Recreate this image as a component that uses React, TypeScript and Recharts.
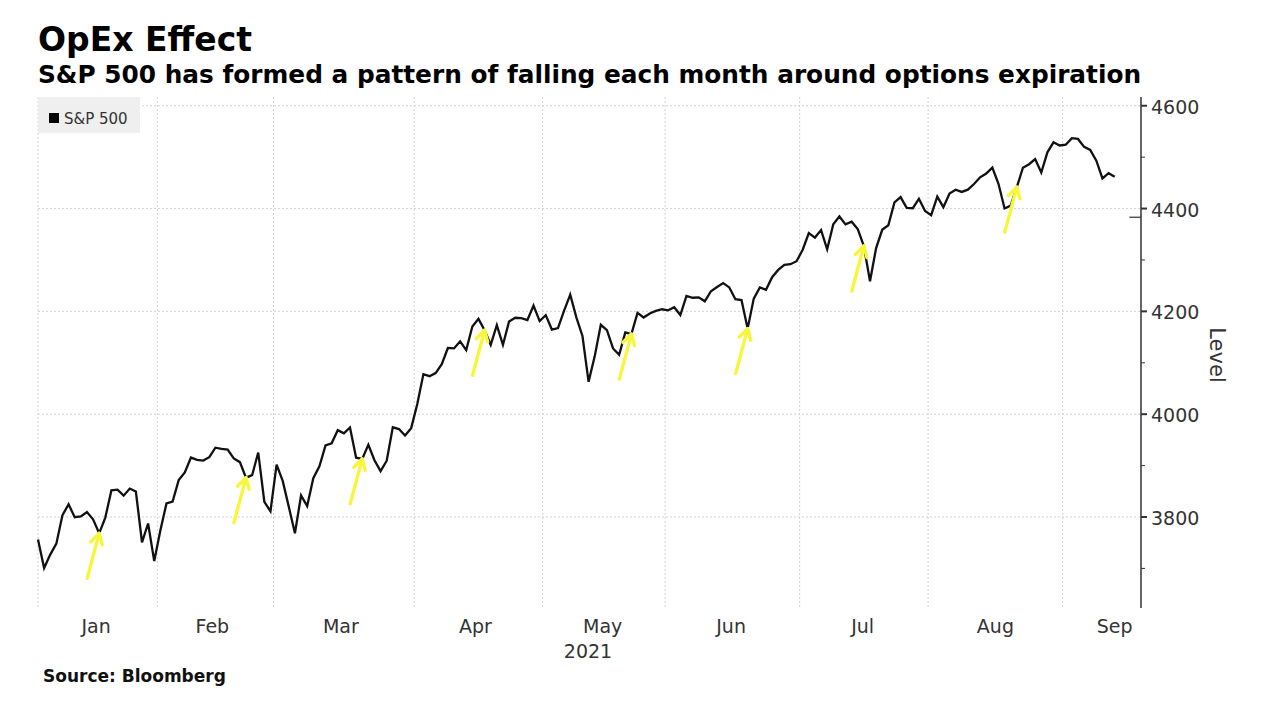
import { LineChart, Line, XAxis, YAxis, CartesianGrid, ReferenceLine, ReferenceDot } from 'recharts'

// S&P 500 daily closes
const dec2020 = [3756.07]
const jan = [
  3700.65, 3726.86, 3748.14, 3803.79, 3824.68, 3799.61, 3801.19, 3809.84, 3795.54, 3768.25,
  3798.91, 3851.85, 3853.07, 3841.47, 3855.36, 3849.62, 3750.77, 3787.38, 3714.24,
]
const feb = [
  3773.86, 3826.31, 3830.17, 3871.74, 3886.83, 3915.59, 3911.23, 3909.88, 3916.38, 3934.83,
  3932.59, 3931.33, 3913.97, 3906.71, 3876.5, 3881.37, 3925.43, 3829.34, 3811.15,
]
const mar = [
  3901.82, 3870.29, 3819.72, 3768.47, 3841.94, 3821.35, 3875.44, 3898.81, 3939.34, 3943.34,
  3968.94, 3962.71, 3974.12, 3915.46, 3913.1, 3940.59, 3910.52, 3889.14, 3909.52, 3974.54,
  3971.09, 3958.55, 3972.89,
]
const apr = [
  4019.87, 4077.91, 4073.94, 4079.95, 4097.17, 4128.8, 4127.99, 4141.59, 4124.66, 4170.42,
  4185.47, 4163.26, 4134.94, 4173.42, 4134.98, 4180.17, 4187.62, 4186.72, 4183.18, 4211.47,
  4181.17,
]
const may = [
  4192.66, 4164.66, 4167.59, 4201.62, 4232.6, 4188.43, 4152.1, 4063.04, 4112.5, 4173.85,
  4163.29, 4127.83, 4115.68, 4159.12, 4155.86, 4197.05, 4188.13, 4195.99, 4200.88, 4204.11,
]
const jun = [
  4202.04, 4208.12, 4192.85, 4229.89, 4226.52, 4227.26, 4219.55, 4239.18, 4247.44, 4255.15,
  4246.59, 4223.7, 4221.86, 4166.45, 4224.79, 4246.44, 4241.84, 4266.49, 4280.7, 4290.61,
  4291.8, 4297.5,
]
const jul = [
  4319.94, 4352.34, 4343.54, 4358.13, 4320.82, 4369.55, 4384.63, 4369.21, 4374.3, 4360.03,
  4327.16, 4258.49, 4323.06, 4358.69, 4367.48, 4411.79, 4422.3, 4401.46, 4400.64, 4419.15,
  4395.26,
]
const aug = [
  4387.16, 4423.15, 4402.66, 4429.1, 4436.52, 4432.35, 4436.75, 4447.7, 4460.83, 4468.0,
  4479.71, 4448.08, 4400.27, 4405.8, 4441.67, 4479.53, 4486.23, 4496.19, 4470.0, 4509.37,
  4528.79, 4522.68,
]
const sep = [4524.09, 4536.95, 4535.43, 4520.03, 4514.07, 4493.28, 4458.58, 4468.73, 4462.0]

const monthLabels = ['Jan', 'Feb', 'Mar', 'Apr', 'May', 'Jun', 'Jul', 'Aug', 'Sep']
const monthTicks = [9.5, 28.5, 49.5, 71.5, 92.3, 113.3, 134.8, 156.5, 176]
const yTicks = [3700, 3800, 3900, 4000, 4100, 4200, 4300, 4400, 4500, 4600]
const yGridLevels = [3800, 4000, 4200, 4400, 4600]
// points the yellow arrows sit on (options expiration weeks)
const opexIdx = [10, 34, 53, 73, 97, 116, 135, 160]
const lastMarkLevel = 4383

const months = [jan, feb, mar, apr, may, jun, jul, aug, sep]
const closes = [dec2020, ...months].flat()
const data = closes.map((v, i) => ({ i, v }))

const bounds: number[] = [0]
let count = dec2020.length
months.slice(0, -1).forEach((m) => {
  count += m.length
  bounds.push(count - 0.5)
})

const FONT = "'DejaVu Sans', sans-serif"
const TEXT = '#333'

const YTick = ({ x, y, payload }: any) => {
  const major = payload.value % 200 === 0
  return (
    <g>
      <line x1={x} x2={x + (major ? 6 : 4)} y1={y} y2={y} stroke={TEXT} strokeWidth={major ? 2 : 1} />
      {major && (
        <text x={x + 10} y={y + 8} fontSize={19} fill={TEXT} fontFamily={FONT}>
          {payload.value}
        </text>
      )}
    </g>
  )
}

const XTick = ({ x, y, index }: any) => (
  <text x={x} y={y + 25} textAnchor="middle" fontSize={19} fill={TEXT} fontFamily={FONT}>
    {monthLabels[index]}
  </text>
)

const Arrow = ({ cx, cy }: any) => {
  if (cx == null || cy == null) return null
  const tx = cx - 12
  const ty = cy + 45
  const len = Math.hypot(tx - cx, ty - cy)
  const ux = (tx - cx) / len
  const uy = (ty - cy) / len
  const a = (30 * Math.PI) / 180
  const h = 12
  const r1 = { x: ux * Math.cos(a) - uy * Math.sin(a), y: ux * Math.sin(a) + uy * Math.cos(a) }
  const r2 = { x: ux * Math.cos(-a) - uy * Math.sin(-a), y: ux * Math.sin(-a) + uy * Math.cos(-a) }
  return (
    <g stroke="#f8f63c" strokeWidth={3.4} strokeLinecap="round" strokeLinejoin="round" fill="none">
      <line x1={tx} y1={ty} x2={cx} y2={cy} />
      <path d={`M${cx + r1.x * h},${cy + r1.y * h} L${cx},${cy} L${cx + r2.x * h},${cy + r2.y * h}`} />
    </g>
  )
}

export default function App() {
  return (
    <div
      style={{
        position: 'absolute',
        left: 0,
        top: 0,
        width: 1280,
        height: 705,
        background: '#fff',
        overflow: 'hidden',
      }}
    >
      <LineChart
        width={1280}
        height={705}
        data={data}
        margin={{ top: 97, right: 39, bottom: 57, left: 38 }}
      >
        <CartesianGrid
          stroke="#d2d2d2"
          strokeDasharray="2 2"
          horizontalValues={yGridLevels}
          verticalValues={bounds}
        />
        <XAxis
          dataKey="i"
          type="number"
          domain={[0, 180.3]}
          ticks={monthTicks}
          tick={<XTick />}
          tickSize={0}
          tickMargin={0}
          axisLine={false}
          tickLine={false}
          height={40}
          interval={0}
        />
        <YAxis
          orientation="right"
          domain={[3623, 4617]}
          ticks={yTicks}
          tick={<YTick />}
          tickSize={0}
          tickMargin={0}
          tickLine={false}
          axisLine={{ stroke: TEXT, strokeWidth: 1.5 }}
          width={100}
          interval={0}
        />
        <Line
          dataKey="v"
          type="linear"
          stroke="#111"
          strokeWidth={2.3}
          dot={false}
          isAnimationActive={false}
        />
        <ReferenceLine
          segment={[
            { x: 178.4, y: lastMarkLevel },
            { x: 180.3, y: lastMarkLevel },
          ]}
          stroke="#555"
          strokeWidth={1.5}
        />
        {opexIdx.map((i) => (
          <ReferenceDot key={i} x={i} y={closes[i]} ifOverflow="visible" shape={<Arrow />} />
        ))}
      </LineChart>
      <svg
        width={1280}
        height={705}
        style={{ position: 'absolute', left: 0, top: 0, pointerEvents: 'none' }}
        fontFamily={FONT}
      >
        <text x={38} y={51} fontSize={33} fontWeight="bold" fill="#000">
          OpEx Effect
        </text>
        <text x={38} y={83} fontSize={24.8} fontWeight="bold" fill="#000">
          S&amp;P 500 has formed a pattern of falling each month around options expiration
        </text>
        <rect x={38} y={97} width={102} height={36} fill="#efefef" />
        <rect x={49} y={113} width={10} height={10} fill="#000" />
        <text x={64} y={124} fontSize={15} fill={TEXT}>
          S&amp;P 500
        </text>
        <text x={588} y={658} fontSize={19} fill={TEXT} textAnchor="middle">
          2021
        </text>
        <text x={1210} y={355} fontSize={21} fill={TEXT} textAnchor="middle" transform="rotate(90 1210 355)">
          Level
        </text>
        <text x={43} y={682} fontSize={17} fontWeight="bold" fill="#111">
          Source: Bloomberg
        </text>
      </svg>
    </div>
  )
}
